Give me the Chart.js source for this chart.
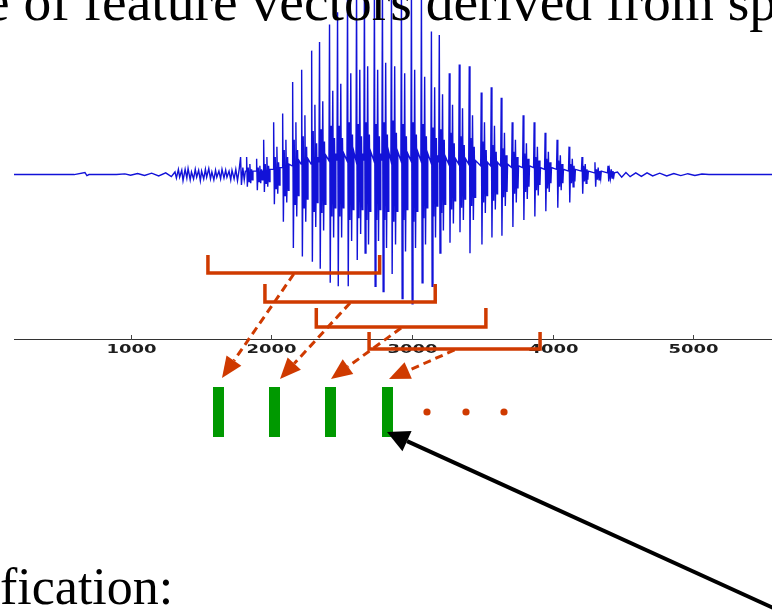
<!DOCTYPE html>
<html>
<head>
<meta charset="utf-8">
<script src="https://cdn.jsdelivr.net/npm/chart.js@4.4.1/dist/chart.umd.min.js"></script>
<style>
html,body{margin:0;padding:0;background:#fff;overflow:hidden}
canvas{display:block}
</style>
</head>
<body>
<canvas id="c" width="772" height="611"></canvas>
<script>
// waveform samples (sample index, amplitude)
const waveT = [
  172,600,676,690,705,900,960,1000,1050,1100,1150,1200,1250,1290,
  1316,1326,1340,1349,1364,1373,1388,1400,1409,1424,1433,1448,1460,1470,1484,1496,
  1505,1520,1532,1541,1556,1568,1578,1592,1604,1613,1628,1640,1650,1664,1676,1685,
  1700,1712,1721,1736,1748,1760,1772,1782,1788,1798,1808,1816,
  1821,1825,1830,1836,1842,1848,1854,1860,1866,1870,
  1892,1896,1901,1907,1913,1919,1925,1931,1937,1941,
  1942,1946,1951,1957,1963,1969,1975,1981,1987,1991,
  2013,2017,2022,2028,2034,2040,2046,2052,2058,2062,
  2077,2081,2086,2092,2098,2104,2110,2116,2122,2126,
  2148,2152,2157,2163,2169,2175,2181,2187,2193,2197,
  2212,2216,2221,2227,2233,2239,2245,2251,2257,2261,
  2283,2287,2292,2298,2304,2310,2316,2322,2328,2332,
  2339,2343,2348,2354,2360,2366,2372,2378,2384,2388,
  2410,2414,2419,2425,2431,2437,2443,2449,2455,2459,
  2467,2471,2476,2482,2488,2494,2500,2506,2512,2516,
  2538,2542,2547,2553,2559,2565,2571,2577,2583,2587,
  2602,2606,2611,2617,2623,2629,2635,2641,2647,2651,
  2658,2662,2667,2673,2679,2685,2691,2697,2703,2707,
  2729,2733,2738,2744,2750,2756,2762,2768,2774,2778,
  2786,2790,2795,2801,2807,2813,2819,2825,2831,2835,
  2850,2854,2859,2865,2871,2877,2883,2889,2895,2899,
  2921,2925,2930,2936,2942,2948,2954,2960,2966,2970,
  2992,2996,3001,3007,3013,3019,3025,3031,3037,3041,
  3063,3067,3072,3078,3084,3090,3096,3102,3108,3112,
  3134,3138,3143,3149,3155,3161,3167,3173,3179,3183,
  3190,3194,3199,3205,3211,3217,3223,3229,3235,3239,
  3261,3265,3270,3276,3282,3288,3294,3300,3306,3310,
  3332,3336,3341,3347,3353,3359,3365,3371,3377,3381,
  3403,3407,3412,3418,3424,3430,3436,3442,3448,3452,
  3488,3492,3497,3503,3509,3515,3521,3527,3533,3537,
  3559,3563,3568,3574,3580,3586,3592,3598,3604,3608,
  3630,3634,3639,3645,3651,3657,3663,3669,3675,3679,
  3708,3712,3717,3723,3729,3735,3741,3747,3753,3757,
  3786,3790,3795,3801,3807,3813,3819,3825,3831,3835,
  3864,3868,3873,3879,3885,3891,3897,3903,3909,3913,
  3942,3946,3951,3957,3963,3969,3975,3981,3987,3991,
  4027,4031,4036,4042,4048,4054,4060,4066,4072,4076,
  4112,4116,4121,4127,4133,4139,4145,4151,4157,4161,
  4204,4208,4213,4219,4225,4231,4237,4243,4249,4253,
  4296,4300,4305,4311,4317,4323,4329,4335,4341,4345,
  4389,4393,4398,4404,4410,4416,4422,4428,4434,4438,
  4460,4490,4520,4550,4590,4630,4670,4710,4760,4810,4860,4910,4960,5010,5060,5110,5558
];
const waveA = [
  0,0,0.012,-0.006,0,0,0.004,-0.004,0.006,-0.005,0.008,-0.008,0.01,-0.012,
  0.015,-0.02,0.03,-0.015,0.025,-0.035,0.03,-0.02,0.035,-0.03,0.015,-0.025,0.03,-0.015,0.025,-0.035,
  0.02,-0.025,0.03,-0.015,0.035,-0.025,0.015,-0.03,0.025,-0.015,0.02,-0.025,0.03,-0.02,0.025,-0.015,
  0.02,-0.03,0.025,-0.025,0.03,-0.035,0.03,0.10,-0.06,0.04,-0.03,0.02,
  0.02,0.10,-0.07,0.04,-0.04,0.06,-0.05,0.03,-0.03,0.02,
  0.02,0.09,-0.09,0.04,-0.04,0.05,-0.05,0.03,-0.03,0.02,
  0.02,0.20,-0.10,0.06,-0.05,0.10,-0.07,0.05,-0.04,0.03,
  0.03,0.30,-0.17,0.10,-0.08,0.16,-0.11,0.07,-0.06,0.04,
  0.04,0.35,-0.27,0.14,-0.12,0.20,-0.16,0.10,-0.09,0.06,
  0.05,0.53,-0.42,0.20,-0.17,0.30,-0.24,0.14,-0.12,0.08,
  0.06,0.60,-0.47,0.22,-0.19,0.34,-0.27,0.16,-0.14,0.09,
  0.06,0.71,-0.50,0.25,-0.21,0.40,-0.30,0.18,-0.16,0.10,
  0.07,0.76,-0.54,0.26,-0.22,0.42,-0.32,0.19,-0.17,0.11,
  0.08,0.86,-0.62,0.28,-0.24,0.48,-0.36,0.21,-0.19,0.12,
  0.08,0.93,-0.64,0.28,-0.24,0.52,-0.36,0.21,-0.19,0.12,
  0.08,1.05,-0.64,0.30,-0.26,0.58,-0.38,0.23,-0.20,0.13,
  0.08,1.08,-0.49,0.29,-0.25,0.60,-0.34,0.22,-0.20,0.12,
  0.08,1.08,-0.45,0.30,-0.26,0.62,-0.40,0.23,-0.21,0.13,
  0.08,1.08,-0.64,0.29,-0.26,0.60,-0.38,0.22,-0.20,0.12,
  0.08,1.08,-0.67,0.30,-0.26,0.64,-0.42,0.23,-0.21,0.13,
  0.08,1.08,-0.57,0.31,-0.27,0.62,-0.40,0.24,-0.21,0.13,
  0.08,1.08,-0.71,0.29,-0.26,0.58,-0.44,0.22,-0.20,0.12,
  0.08,1.08,-0.74,0.30,-0.27,0.60,-0.42,0.23,-0.21,0.13,
  0.08,1.06,-0.62,0.29,-0.25,0.56,-0.40,0.22,-0.19,0.12,
  0.07,0.82,-0.64,0.27,-0.24,0.50,-0.36,0.21,-0.18,0.11,
  0.07,0.80,-0.45,0.26,-0.22,0.46,-0.32,0.20,-0.17,0.10,
  0.06,0.58,-0.39,0.24,-0.20,0.40,-0.28,0.18,-0.15,0.09,
  0.06,0.63,-0.33,0.22,-0.19,0.38,-0.26,0.17,-0.14,0.09,
  0.06,0.62,-0.45,0.21,-0.18,0.34,-0.26,0.16,-0.13,0.08,
  0.05,0.47,-0.40,0.19,-0.16,0.30,-0.22,0.14,-0.12,0.07,
  0.05,0.50,-0.36,0.17,-0.15,0.28,-0.20,0.13,-0.11,0.07,
  0.05,0.44,-0.35,0.15,-0.13,0.24,-0.18,0.11,-0.10,0.06,
  0.04,0.30,-0.30,0.13,-0.11,0.20,-0.16,0.10,-0.08,0.05,
  0.04,0.34,-0.26,0.12,-0.10,0.18,-0.14,0.09,-0.07,0.05,
  0.04,0.30,-0.24,0.10,-0.09,0.16,-0.12,0.08,-0.06,0.04,
  0.03,0.24,-0.21,0.09,-0.08,0.13,-0.10,0.07,-0.05,0.04,
  0.03,0.20,-0.19,0.08,-0.07,0.11,-0.09,0.06,-0.05,0.03,
  0.02,0.16,-0.16,0.06,-0.05,0.09,-0.07,0.05,-0.04,0.03,
  0.02,0.10,-0.11,0.05,-0.04,0.06,-0.05,0.03,-0.03,0.02,
  0.01,0.07,-0.07,0.03,-0.03,0.04,-0.03,0.02,-0.02,0.02,
  0.01,0.05,-0.04,0.02,-0.02,0.03,-0.02,0.02,-0.01,0.01,
  0.015,-0.015,0.012,-0.012,0.01,-0.01,0.01,-0.008,0.008,-0.008,0.006,-0.006,0.005,-0.005,0.003,0,0
];
// analysis frames (sample ranges), tick labels
const frameStart = [1550, 1955, 2320, 2695];
const frameEnd = [2770, 3165, 3525, 3910];
const tickValues = [1000, 2000, 3000, 4000, 5000];
const tickLabels = ['1000', '2000', '3000', '4000', '5000'];

// layout
const AXIS_AT = -0.945;
const bracketTop = [255, 284, 308, 332];
const bracketBottom = [273, 302, 327, 349];
const featX = [213, 269, 325, 382];
const arrowTip = [[222, 378], [280, 379], [331, 379], [389, 379]];
const dotX = [427, 466, 504];
const RED = '#cf3a00';
const GREEN = '#009900';

function arrowHead(ctx, x0, y0, x1, y1, len, half) {
  const a = Math.atan2(y1 - y0, x1 - x0);
  const bx = x1 - len * Math.cos(a), by = y1 - len * Math.sin(a);
  ctx.beginPath();
  ctx.moveTo(x1, y1);
  ctx.lineTo(bx + half * Math.sin(a), by - half * Math.cos(a));
  ctx.lineTo(bx - half * Math.sin(a), by + half * Math.cos(a));
  ctx.closePath();
  ctx.fill();
  return [bx, by];
}

const overlay = {
  id: 'overlay',
  afterDraw(chart) {
    const ctx = chart.ctx, xs = chart.scales.x, ys = chart.scales.y;
    const axisY = Math.round(ys.getPixelForValue(AXIS_AT));
    ctx.save();
    // tick marks and stretched labels
    ctx.strokeStyle = '#444';
    ctx.lineWidth = 1;
    ctx.fillStyle = '#1e1e1e';
    ctx.font = 'bold 12px "DejaVu Sans"';
    ctx.textAlign = 'center';
    ctx.textBaseline = 'middle';
    tickValues.forEach((v, i) => {
      const px = Math.round(xs.getPixelForValue(v)) + 0.5;
      ctx.beginPath(); ctx.moveTo(px, axisY - 5); ctx.lineTo(px, axisY); ctx.stroke();
      ctx.save();
      ctx.translate(px, axisY + 10);
      ctx.scale(1.5, 1);
      ctx.fillText(tickLabels[i], 0, 0);
      ctx.restore();
    });

    // frame brackets
    ctx.strokeStyle = RED;
    ctx.fillStyle = RED;
    ctx.lineWidth = 3.5;
    const mids = [];
    frameStart.forEach((s, i) => {
      const x0 = xs.getPixelForValue(s), x1 = xs.getPixelForValue(frameEnd[i]);
      ctx.beginPath();
      ctx.moveTo(x0, bracketTop[i]);
      ctx.lineTo(x0, bracketBottom[i]);
      ctx.lineTo(x1, bracketBottom[i]);
      ctx.lineTo(x1, bracketTop[i]);
      ctx.stroke();
      mids.push([(x0 + x1) / 2, bracketBottom[i] + 1]);
    });

    // dashed arrows frame -> feature vector
    ctx.lineWidth = 3;
    mids.forEach((m, i) => {
      const t = arrowTip[i];
      const b = arrowHead(ctx, m[0], m[1], t[0], t[1], 21, 9);
      ctx.setLineDash([8, 5]);
      ctx.beginPath(); ctx.moveTo(m[0], m[1]); ctx.lineTo(b[0], b[1]); ctx.stroke();
      ctx.setLineDash([]);
    });

    // feature vectors
    ctx.fillStyle = GREEN;
    featX.forEach(x => ctx.fillRect(x, 387, 11, 50));

    // ellipsis dots
    ctx.fillStyle = RED;
    dotX.forEach(x => { ctx.beginPath(); ctx.arc(x, 412, 3.6, 0, Math.PI * 2); ctx.fill(); });

    // black pointer
    ctx.fillStyle = '#000';
    ctx.strokeStyle = '#000';
    ctx.lineWidth = 4;
    const b = arrowHead(ctx, 780, 611, 387, 432, 22, 11);
    ctx.beginPath(); ctx.moveTo(780, 611); ctx.lineTo(b[0], b[1]); ctx.stroke();

    // slide text
    ctx.fillStyle = '#000';
    ctx.textAlign = 'left';
    ctx.textBaseline = 'alphabetic';
    ctx.font = '55.5px "Liberation Serif"';
    ctx.fillText('e of feature vectors derived from sp', -15, 20);
    ctx.font = '52px "Liberation Serif"';
    ctx.fillText('fication:', 0, 604);
    ctx.restore();
  }
};

new Chart(document.getElementById('c'), {
  type: 'line',
  data: {
    datasets: [{
      data: waveT.map((t, i) => ({x: t, y: waveA[i]})),
      borderColor: '#1212d8',
      borderWidth: 1.4,
      pointRadius: 0,
      tension: 0,
      fill: false
    }]
  },
  options: {
    responsive: false,
    animation: false,
    devicePixelRatio: 1,
    layout: {padding: {left: 14, right: 0, top: 0, bottom: 0}},
    plugins: {legend: {display: false}, tooltip: {enabled: false}},
    scales: {
      x: {
        type: 'linear',
        min: 172,
        max: 5558,
        position: {y: AXIS_AT},
        grid: {display: true, drawOnChartArea: false, drawTicks: false},
        border: {display: true, color: '#333', width: 1},
        ticks: {display: false},
        afterBuildTicks: s => { s.ticks = tickValues.map(v => ({value: v})); }
      },
      y: {
        type: 'linear',
        display: false,
        min: -2.5,
        max: 1
      }
    }
  },
  plugins: [overlay]
});
</script>
</body>
</html>
